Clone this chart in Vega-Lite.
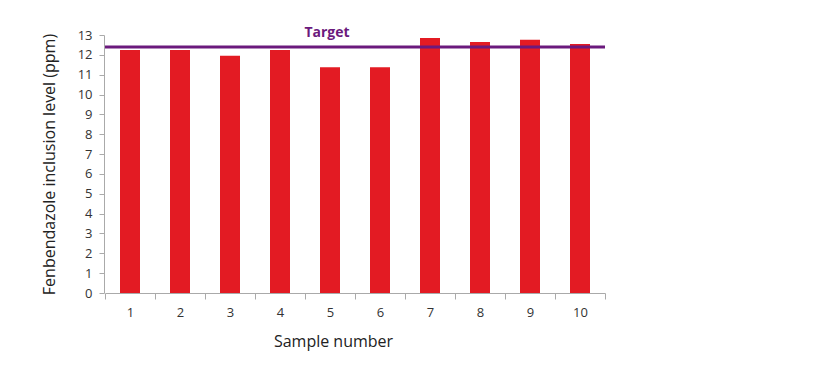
{
  "$schema": "https://vega.github.io/schema/vega-lite/v6.json",
  "width": 500,
  "height": 258,
  "autosize": {"type": "none"},
  "padding": {"left": 105, "top": 35, "right": 215, "bottom": 81},
  "background": "white",
  "config": {
    "view": {"stroke": null},
    "font": "Open Sans",
    "axis": {
      "domainColor": "#aaaaaa",
      "tickColor": "#aaaaaa",
      "labelColor": "#333333",
      "titleColor": "#222222",
      "labelFont": "Open Sans",
      "titleFont": "Open Sans",
      "labelFontSize": 13,
      "titleFontSize": 16,
      "titleFontWeight": "normal",
      "grid": false
    }
  },
  "data": {
    "values": [
      {"sample": 1, "value": 12.25},
      {"sample": 2, "value": 12.25},
      {"sample": 3, "value": 11.95},
      {"sample": 4, "value": 12.25},
      {"sample": 5, "value": 11.37},
      {"sample": 6, "value": 11.37},
      {"sample": 7, "value": 12.85},
      {"sample": 8, "value": 12.65},
      {"sample": 9, "value": 12.76},
      {"sample": 10, "value": 12.55}
    ]
  },
  "encoding": {
    "x": {
      "field": "sample",
      "type": "ordinal",
      "scale": {"paddingInner": 0, "paddingOuter": 0},
      "axis": {
        "title": "Sample number",
        "labelAngle": 0,
        "tickBand": "extent",
        "tickSize": 6,
        "labelPadding": 7,
        "titlePadding": 14,
        "titleX": 228
      }
    },
    "y": {
      "field": "value",
      "type": "quantitative",
      "scale": {"domain": [0, 13], "nice": false},
      "axis": {
        "title": "Fenbendazole inclusion level (ppm)",
        "values": [0,1,2,3,4,5,6,7,8,9,10,11,12,13],
        "labelOverlap": false,
        "offset": 1,
        "tickSize": 5,
        "labelPadding": 7,
        "titlePadding": 20
      }
    }
  },
  "layer": [
    {
      "mark": {"type": "bar", "color": "#e31b23", "width": {"band": 0.4}}
    },
    {
      "data": {"values": [{"value": 12.4, "label": "Target", "sample": 5}]},
      "layer": [
        {
          "mark": {"type": "rule", "color": "#6b1a7d", "strokeWidth": 3},
          "encoding": {
            "x": null
          }
        },
        {
          "mark": {"type": "text", "color": "#6b1a7d", "fontWeight": "bold", "fontSize": 14, "dy": -14, "dx": -3, "baseline": "middle"},
          "encoding": {
            "text": {"field": "label"}
          }
        }
      ]
    }
  ]
}
